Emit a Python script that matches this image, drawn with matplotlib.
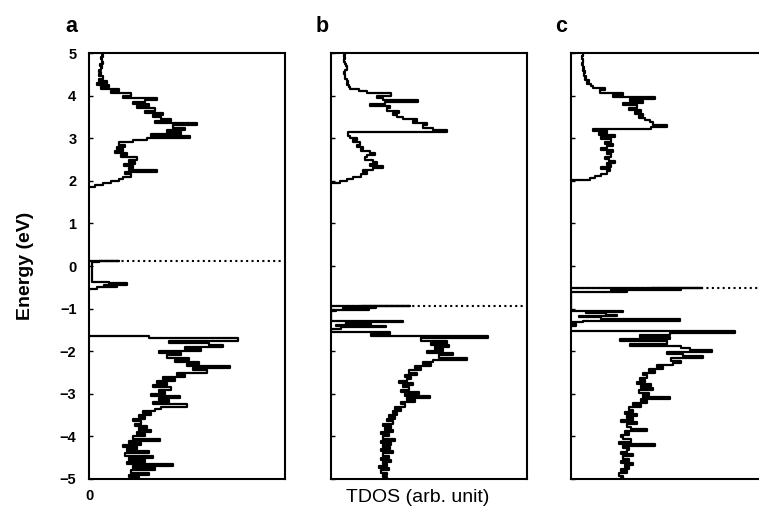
import numpy as np
import matplotlib
matplotlib.use("Agg")
import matplotlib.pyplot as plt

plt.rcParams["font.family"] = ["Liberation Sans", "DejaVu Sans"]

STEP = 0.05  # energy spacing of the sampled DOS (eV)

# ---- panel a ----
a_cb_start = 1.85
a_cb = [0, 6, 14, 22, 30, 34, 42, 36, 68, 40, 44, 35, 46, 40, 48, 32, 38, 26, 34, 28,
        36, 30, 44, 58, 101, 62, 92, 78, 96, 84, 108, 66, 82, 72, 64, 74, 56, 66, 48, 60,
        44, 56, 68, 34, 42, 22, 30, 12, 20, 8, 18, 10, 14, 10, 12, 10, 12, 13, 11, 14,
        13, 12, 14, 13]
a_vb_start = -1.65
a_vb = [0, 60, 149, 80, 120, 134, 96, 112, 70, 92, 78, 100, 86, 110, 98, 141, 104, 118, 88, 96,
        74, 86, 68, 78, 64, 82, 70, 76, 62, 91, 70, 80, 64, 98, 72, 66, 54, 62, 50, 56,
        44, 52, 46, 58, 50, 62, 48, 56, 44, 71, 40, 52, 34, 48, 38, 60, 36, 64, 40, 56,
        38, 84, 44, 66, 42, 60, 40, 50]
a_gap_e = [0.12, 0.12, 0.10, 0.08, -0.38, -0.40, -0.44, -0.46, -0.50, -0.53, -0.55]
a_gap_dos = [0, 30, 10, 3, 3, 20, 38, 15, 28, 8, 0]
a_fermi = 0.12

# ---- panel b ----
b_cb_start = 1.95
b_cb = [0, 9, 16, 22, 30, 36, 32, 42, 52, 39, 46, 42, 34, 36, 44, 39, 30, 32, 26, 29,
        22, 26, 19, 17, 17, 116, 102, 92, 96, 82, 86, 72, 66, 62, 68, 56, 59, 39, 54, 87,
        52, 46, 60, 36, 28, 19, 18, 16, 17, 16, 14, 14, 13, 14, 16, 16, 15, 14, 13, 14,
        13, 14]
b_vb_start = -1.55
b_vb = [0, 59, 40, 157, 90, 116, 100, 118, 104, 112, 96, 122, 108, 136, 102, 92, 100, 84, 90, 78,
        86, 74, 80, 76, 68, 82, 72, 78, 70, 88, 74, 99, 76, 84, 70, 74, 64, 70, 62, 66,
        58, 64, 56, 62, 52, 60, 54, 62, 50, 58, 52, 64, 50, 60, 52, 59, 50, 62, 52, 58,
        50, 60, 52, 56, 48, 58, 50, 56, 52, 56]
b_gap_e = [-0.95, -0.95, -0.97, -0.99, -1.01, -1.03, -1.05, -1.06,
           -1.30, -1.32, -1.35, -1.38, -1.40, -1.44, -1.47, -1.50]
b_gap_dos = [0, 79, 30, 45, 12, 38, 5, 0,
             0, 72, 15, 40, 5, 55, 10, 0]
b_fermi = -0.95

# ---- panel c ----
c_cb_start = 2.02
c_cb = [0, 19, 24, 30, 36, 39, 30, 40, 36, 44, 38, 34, 40, 36, 42, 30, 36, 42, 34, 40,
        30, 44, 28, 36, 22, 80, 96, 82, 79, 74, 68, 72, 64, 70, 58, 66, 52, 72, 59, 84,
        42, 52, 29, 34, 22, 20, 16, 18, 14, 15, 13, 14, 12, 13, 12, 11, 12, 12, 11, 12,
        12]
c_vb_start = -1.52
c_vb = [0, 164, 99, 69, 99, 49, 96, 59, 110, 119, 141, 96, 112, 132, 100, 110, 102, 86, 92, 78,
        84, 72, 76, 69, 74, 66, 80, 70, 82, 68, 78, 72, 99, 70, 76, 62, 70, 58, 62, 54,
        66, 56, 62, 50, 66, 56, 60, 76, 54, 58, 50, 52, 60, 48, 84, 52, 58, 56, 50, 62,
        52, 58, 50, 62, 54, 58, 50, 56, 48, 52, 50]
c_gap_e = [-0.52, -0.52, -0.54, -0.56, -0.58, -0.60, -0.62,
           -1.05, -1.08, -1.11, -1.14, -1.17, -1.20, -1.25, -1.28, -1.31, -1.35, -1.40, -1.43]
c_gap_dos = [0, 131, 80, 110, 40, 56, 0,
             0, 52, 15, 35, 46, 8, 30, 109, 12, 0, 5, 0]
c_fermi = -0.52

panels = [
    ("a", a_cb_start, a_cb, a_vb_start, a_vb, a_gap_e, a_gap_dos, a_fermi),
    ("b", b_cb_start, b_cb, b_vb_start, b_vb, b_gap_e, b_gap_dos, b_fermi),
    ("c", c_cb_start, c_cb, c_vb_start, c_vb, c_gap_e, c_gap_dos, c_fermi),
]

W, H = 759, 520
fig = plt.figure(figsize=(W / 100, H / 100), dpi=100)

lefts = [89, 331, 571]
box_w, box_b, box_h = 196, 41, 426

for i, (tag, cbs, cb, vbs, vb, ge, gd, ef) in enumerate(panels):
    ax = fig.add_axes([lefts[i] / W, box_b / H, box_w / W, box_h / H])
    cb_e = cbs + STEP * np.arange(len(cb))
    vb_e = vbs - STEP * np.arange(len(vb))
    kw = dict(color="black", lw=1.6, drawstyle="steps-post")
    ax.plot(cb, cb_e, **kw)
    ax.plot(vb, vb_e, **kw)
    ax.plot(gd, ge, **kw)
    ax.axhline(ef, color="black", lw=1.5, ls=(0, (1, 1.6)))

    ax.set_xlim(0, box_w)
    ax.set_ylim(-5, 5)
    ax.set_yticks(range(-5, 6))
    ax.tick_params(axis="y", direction="in", length=3, width=1, labelsize=10.5, pad=9)
    for s in ax.spines.values():
        s.set_linewidth(1.5)
    if i == 0:
        ax.set_yticklabels([str(v).replace("-", "\u2212") for v in range(-5, 6)],
                           fontweight="bold")
        ax.set_xticks([0])
        ax.set_xticklabels(["0"], fontweight="bold", fontsize=10.5)
        ax.tick_params(axis="x", length=0, pad=7)
        ax.set_ylabel("Energy (eV)", fontsize=14, fontweight="bold")
        ax.yaxis.set_label_coords(-0.28, 0.5)
    else:
        ax.set_yticklabels([])
        ax.set_xticks([])
    ax.text(-0.12 if i == 0 else -0.08, 1.063, tag, transform=ax.transAxes,
            fontsize=15.5, fontweight="bold", ha="left", va="center")

fig.text(418 / W, 1 - 497 / H, "TDOS (arb. unit)", fontsize=14, ha="center", va="center")

fig.savefig("out.png", dpi=100)
